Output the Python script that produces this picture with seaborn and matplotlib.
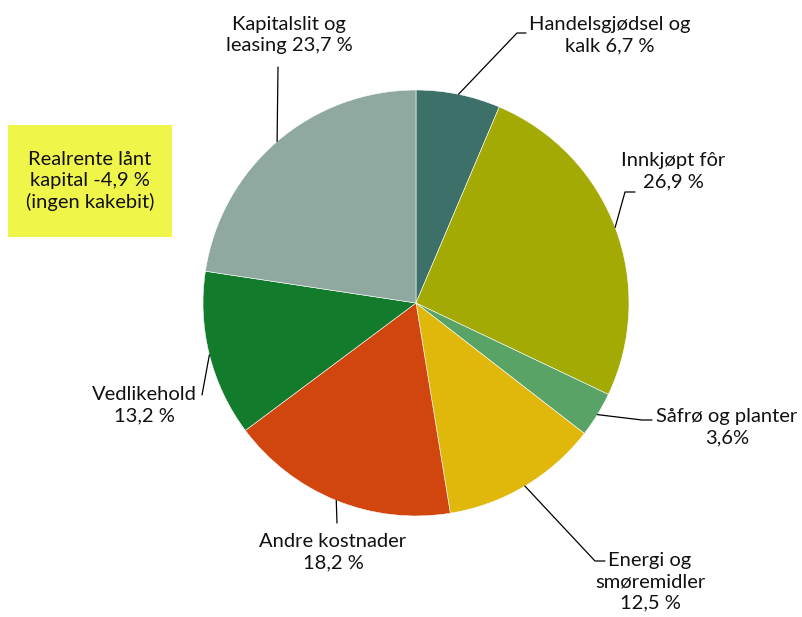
import numpy as np
import matplotlib
matplotlib.use("Agg")
import matplotlib.pyplot as plt
from matplotlib.patches import Rectangle
import seaborn as sns

# cost shares (% of total costs), clockwise from 12 o'clock
labels = ["Handelsgjødsel og\nkalk 6,7 %", "Innkjøpt fôr\n26,9 %", "Såfrø og planter\n3,6%",
          "Energi og\nsmøremidler\n12,5 %", "Andre kostnader\n18,2 %", "Vedlikehold\n13,2 %",
          "Kapitalslit og\nleasing 23,7 %"]
values = [6.7, 26.9, 3.6, 12.5, 18.2, 13.2, 23.7]
colors = ["#3D7068", "#A4AA04", "#5AA366", "#E0B70B", "#D0460E", "#127B2C", "#8FA8A0"]
note_text = "Realrente lånt\nkapital -4,9 %\n(ingen kakebit)"

W, H = 802, 617
CX, CY, R = 416, 303, 213

# label layout in pixel coords (x, y from top): text centre and leader bend points
text_pos = [(610, 35), (673, 171), (727, 427), (650, 582), (333, 552), (144, 405), (289, 35)]
leaders = [
    [(517, 33), (526, 33)],
    [(625, 192), (635, 192)],
    [(642, 420), (652, 420)],
    [(595, 561), (605, 561)],
    [(337, 523)],
    [(202, 395)],
    [(278, 67)],
]

sns.set_theme(style="white")
plt.rcParams["font.family"] = ["Lato", "DejaVu Sans"]

fig = plt.figure(figsize=(W / 100, H / 100), dpi=100)
ax = fig.add_axes([0, 0, 1, 1])

wedges, _ = ax.pie(values, colors=colors, startangle=90, counterclock=False,
                   center=(CX, H - CY), radius=R, frame=True,
                   wedgeprops=dict(edgecolor="white", linewidth=0.4))
ax.set_xlim(0, W)
ax.set_ylim(0, H)
ax.set_aspect("equal")
ax.axis("off")

for w, lab, (tx, ty), pts in zip(wedges, labels, text_pos, leaders):
    ang = np.deg2rad((w.theta1 + w.theta2) / 2)
    x0 = CX + R * np.cos(ang)
    y0 = (H - CY) + R * np.sin(ang)
    xs = [x0] + [p[0] for p in pts]
    ys = [y0] + [H - p[1] for p in pts]
    ax.plot(xs, ys, color="black", lw=0.9)
    ax.text(tx, H - ty, lab, ha="center", va="center", multialignment="center",
            fontsize=14.5, linespacing=1.3, color="#111111")

# yellow note box (not part of the pie)
ax.add_patch(Rectangle((8, H - 237), 164, 112, facecolor="#F0F54A", edgecolor="none"))
ax.text(90, H - 181, note_text, ha="center", va="center", multialignment="center",
        fontsize=14.5, linespacing=1.3, color="#111111")

fig.savefig("out.png", dpi=100)
